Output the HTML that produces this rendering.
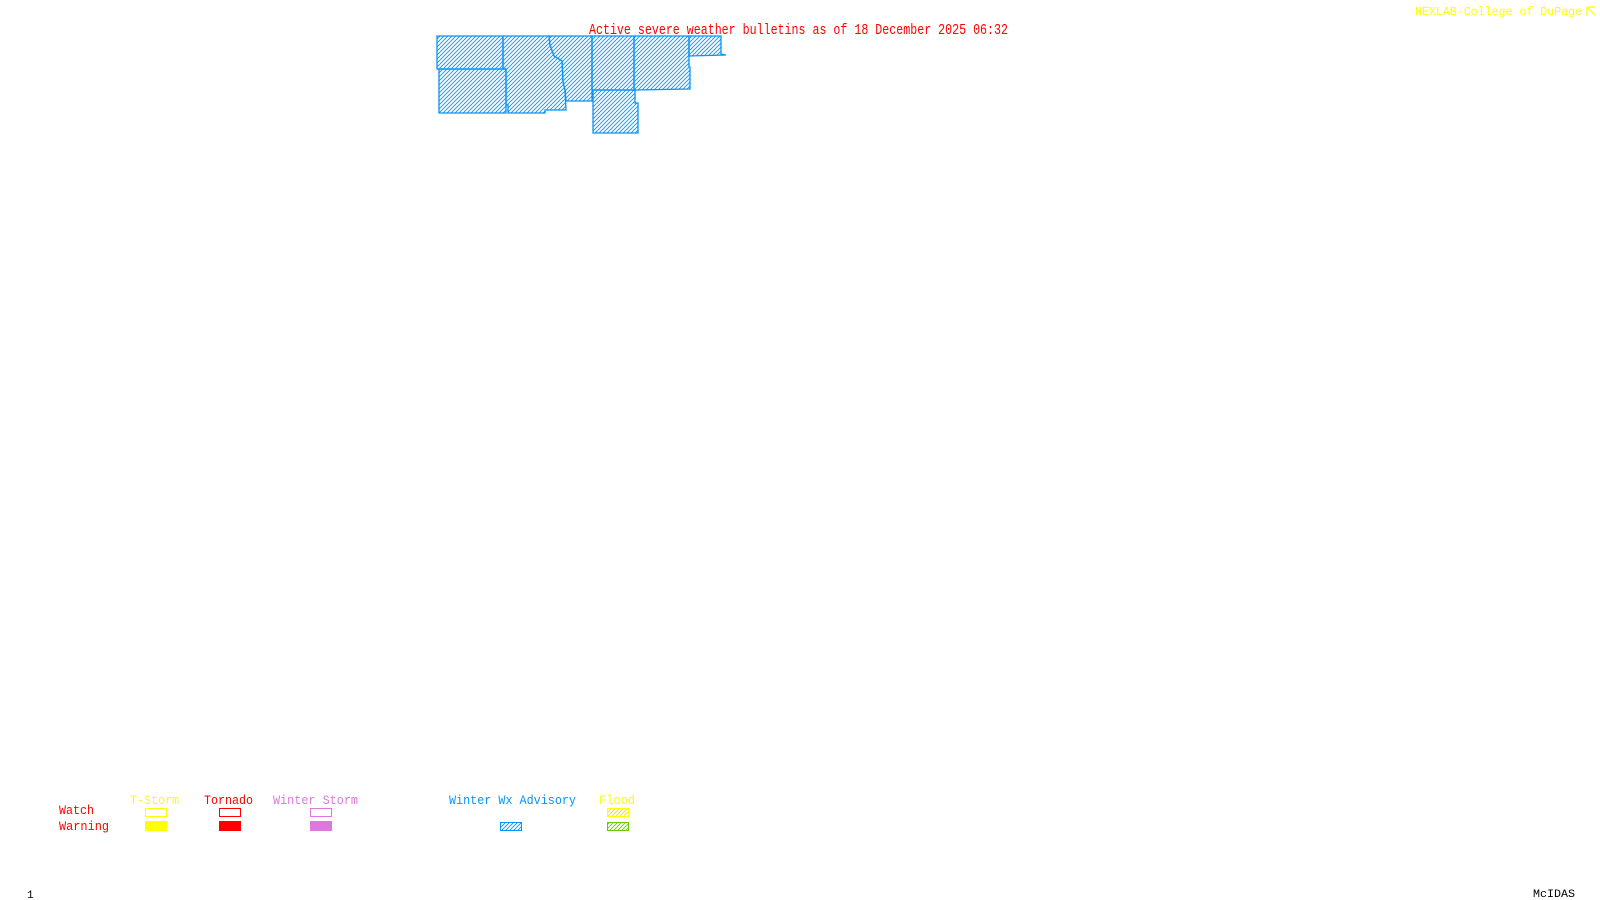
<!DOCTYPE html>
<html><head><meta charset="utf-8"><style>
html,body{margin:0;padding:0;background:#fff;}
svg{display:block;}
text{font-family:"Liberation Mono",monospace;}
</style></head><body>
<svg width="1600" height="900" viewBox="0 0 1600 900" xmlns="http://www.w3.org/2000/svg">
<defs>
<pattern id="hb" width="4" height="4" patternUnits="userSpaceOnUse">
<path d="M-1,1 L1,-1 M0,4 L4,0 M3,5 L5,3" stroke="#0096ff" stroke-width="0.9"/>
</pattern>
<pattern id="hy" width="4" height="4" patternUnits="userSpaceOnUse">
<path d="M-1,1 L1,-1 M0,4 L4,0 M3,5 L5,3" stroke="#e6e600" stroke-width="0.9"/>
</pattern>
<pattern id="hg" width="4" height="4" patternUnits="userSpaceOnUse">
<path d="M-1,1 L1,-1 M0,4 L4,0 M3,5 L5,3" stroke="#66cc00" stroke-width="0.9"/>
</pattern>
</defs>
<g fill="url(#hb)" stroke="#0096ff" stroke-width="1.3">
<polygon points="437,36 503,36 503,69 437,69"/>
<polygon points="439,69 506,69 506,113 439,113"/>
<polygon points="503,36 549,36 550,45 554,56 562,61 563,82 565,90 566,110 545,110 545,113 508,113 508,105 506,105 506,69 503,69"/>
<polygon points="549,36 592,36 592,101 566,101 565,90 563,82 562,61 554,56 550,45"/>
<polygon points="590,36 634,36 634,90 592,90 592,36"/>
<polygon points="593,90 635,90 635,103 638,103 638,133 593,133"/>
<polygon points="634,36 689,36 689,67 690,67 690,89 634,90"/>
<polygon points="689,36 721,36 721,54 726,55 689,56"/>
</g>
<text x="589" y="34" fill="#ff0000" font-size="14.5" textLength="419" lengthAdjust="spacingAndGlyphs">Active severe weather bulletins as of 18 December 2025 06:32</text>
<text x="1415" y="15" fill="#ffff00" font-size="12" textLength="167" lengthAdjust="spacingAndGlyphs">NEXLAB-College of DuPage</text>
<g stroke="#ffff00" stroke-width="1.3" fill="none">
<path d="M1587,7 L1587,16 M1587,7 L1595,7 M1588,8 L1595,15"/>
</g>

<g font-size="12.5">
<text x="130" y="804" fill="#ffff00" textLength="49" lengthAdjust="spacingAndGlyphs">T-Storm</text>
<text x="204" y="804" fill="#ff0000" textLength="49" lengthAdjust="spacingAndGlyphs">Tornado</text>
<text x="273" y="804" fill="#dd77dd" textLength="85" lengthAdjust="spacingAndGlyphs">Winter Storm</text>
<text x="449" y="804" fill="#0096ff" textLength="127" lengthAdjust="spacingAndGlyphs">Winter Wx Advisory</text>
<text x="599" y="804" fill="#ffff00" textLength="36" lengthAdjust="spacingAndGlyphs">Flood</text>
<text x="59" y="814" fill="#ff0000" textLength="35" lengthAdjust="spacingAndGlyphs">Watch</text>
<text x="59" y="830" fill="#ff0000" textLength="50" lengthAdjust="spacingAndGlyphs">Warning</text>
</g>
<rect x="145.5" y="808.5" width="21" height="8" fill="none" stroke="#ffff00" stroke-width="1"/>
<rect x="145" y="821" width="22" height="10" fill="#ffff00"/>
<rect x="219.5" y="808.5" width="21" height="8" fill="none" stroke="#ff0000" stroke-width="1"/>
<rect x="219" y="821" width="22" height="10" fill="#ff0000"/>
<rect x="310.5" y="808.5" width="21" height="8" fill="none" stroke="#dd77dd" stroke-width="1"/>
<rect x="310" y="821" width="22" height="10" fill="#dd77dd"/>
<rect x="500.5" y="822.5" width="21" height="8" fill="url(#hb)" stroke="#0096ff" stroke-width="1"/>
<rect x="607.5" y="808.5" width="21" height="8" fill="url(#hy)" stroke="#ffff00" stroke-width="1"/>
<rect x="607.5" y="822.5" width="21" height="8" fill="url(#hg)" stroke="#66cc00" stroke-width="1"/>

<text x="27" y="898" fill="#000" font-size="11">1</text>
<text x="1533" y="897" fill="#000" font-size="11" textLength="42" lengthAdjust="spacingAndGlyphs">McIDAS</text>
</svg>
</body></html>
